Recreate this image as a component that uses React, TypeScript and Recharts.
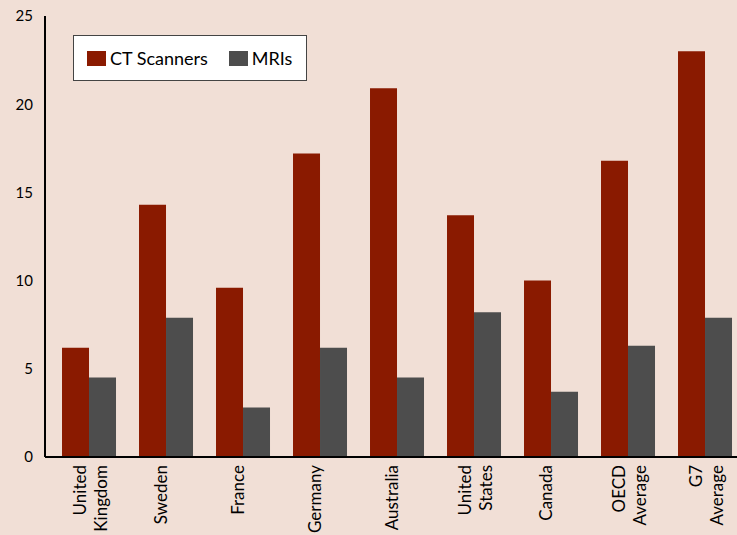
import React from 'react';
import { BarChart, Bar, XAxis, YAxis, Legend } from 'recharts';

const categories = [
  'United\nKingdom',
  'Sweden',
  'France',
  'Germany',
  'Australia',
  'United\nStates',
  'Canada',
  'OECD\nAverage',
  'G7\nAverage',
];
const ctScanners = [6.2, 14.3, 9.6, 17.2, 20.9, 13.7, 10.0, 16.8, 23.0];
const mris = [4.5, 7.9, 2.8, 6.2, 4.5, 8.2, 3.7, 6.3, 7.9];
const yTicks = [0, 5, 10, 15, 20, 25];

const series = [
  { key: 'ct', name: 'CT Scanners', color: '#8A1A00', values: ctScanners },
  { key: 'mri', name: 'MRIs', color: '#4D4D4D', values: mris },
];

const data = categories.map((name, i) => {
  const row: Record<string, any> = { name };
  series.forEach((s) => {
    row[s.key] = s.values[i];
  });
  return row;
});

const FONT = 'Lato, "Open Sans", sans-serif';

const XTick = (props: any) => {
  const { x, y, payload } = props;
  const lines = String(payload.value).split('\n');
  const lh = 21;
  const centre = lines.length === 1 ? -5 : 1;
  const startShift = centre - ((lines.length - 1) * lh) / 2;
  return (
    <g transform={`translate(${x},${y})`}>
      <text
        transform="rotate(-90)"
        textAnchor="end"
        fontFamily={FONT}
        fontSize={17}
        fill="#000"
      >
        {lines.map((l, i) => (
          <tspan key={i} x={0} y={startShift + i * lh} dy="0.35em">
            {l}
          </tspan>
        ))}
      </text>
    </g>
  );
};

const LegendBox = (props: any) => {
  const { payload } = props;
  return (
    <div
      style={{
        background: '#fff',
        border: '1.5px solid #444',
        paddingLeft: 13,
        height: 46,
        width: 234,
        display: 'flex',
        alignItems: 'center',
        fontFamily: FONT,
        fontSize: 18,
        color: '#000',
        boxSizing: 'border-box',
        whiteSpace: 'nowrap',
      }}
    >
      {(payload || []).map((p: any, i: number) => (
        <span
          key={i}
          style={{ display: 'flex', alignItems: 'center', marginRight: i === 0 ? 21 : 0 }}
        >
          <span
            style={{ width: 19, height: 15, background: p.color, display: 'inline-block', marginRight: 4 }}
          />
          {p.value}
        </span>
      ))}
    </div>
  );
};

export default function App() {
  return (
    <div
      style={{
        position: 'absolute',
        left: 0,
        top: 0,
        width: 737,
        height: 535,
        overflow: 'hidden',
        background: '#F1DFD6',
      }}
    >
      <BarChart
        width={750}
        height={535}
        data={data}
        margin={{ top: 16, right: 6, left: 0, bottom: 0 }}
        barCategoryGap="14.3%"
        barGap={0}
      >
        <XAxis
          dataKey="name"
          height={78}
          interval={0}
          padding={{ left: 6, right: 0 }}
          axisLine={{ stroke: '#000', strokeWidth: 2 }}
          tickLine={false}
          tickSize={6}
          tickMargin={2}
          tick={<XTick />}
        />
        <YAxis
          domain={[0, 25]}
          ticks={yTicks}
          width={45}
          interval={0}
          axisLine={{ stroke: '#000', strokeWidth: 2 }}
          tickLine={false}
          tickSize={0}
          tickMargin={12}
          tick={{ fill: '#000', fontSize: 15, fontFamily: FONT }}
        />
        <Legend
          layout="vertical"
          align="center"
          verticalAlign="middle"
          wrapperStyle={{ left: 73, top: 35, width: 234 }}
          content={<LegendBox />}
        />
        {series.map((s) => (
          <Bar
            key={s.key}
            dataKey={s.key}
            name={s.name}
            fill={s.color}
            isAnimationActive={false}
          />
        ))}
      </BarChart>
    </div>
  );
}
